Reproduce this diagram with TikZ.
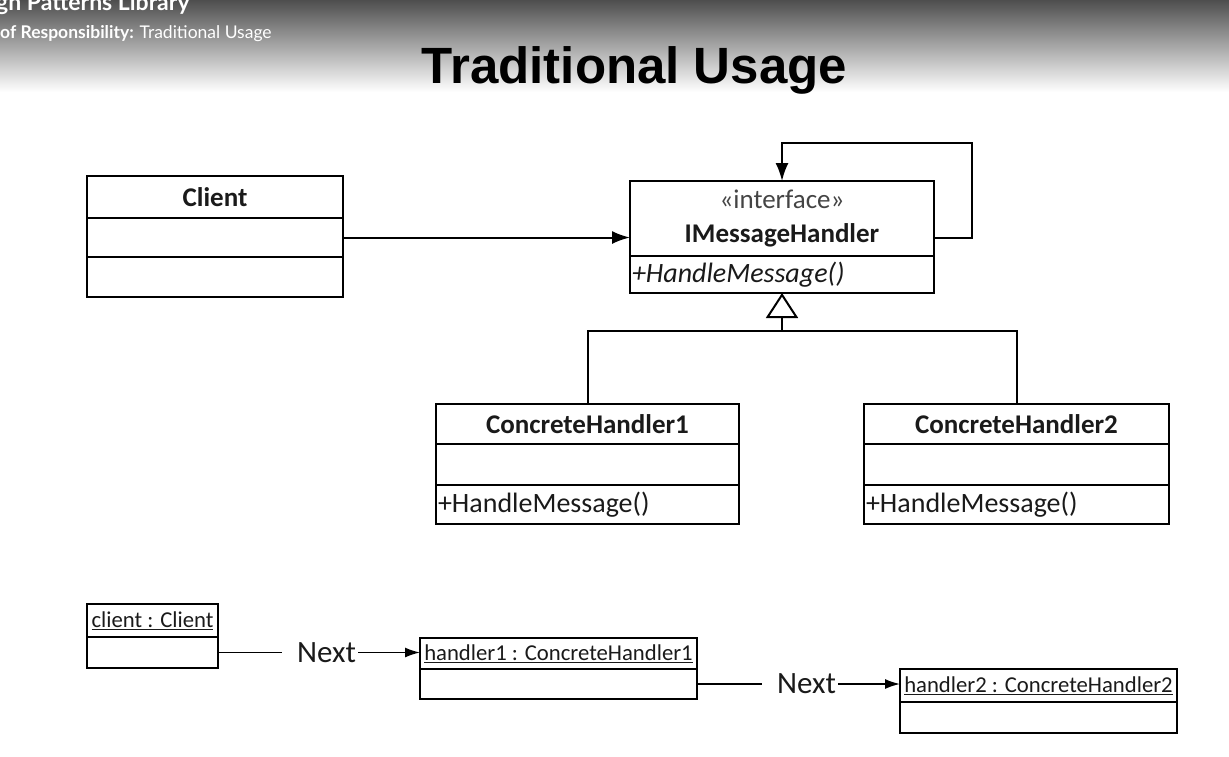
\documentclass[tikz,border=0pt]{standalone}
\usepackage{fontspec}
\setmainfont{Carlito}
\newfontfamily\titlefont{Liberation Sans}
\newfontfamily\bannerfont{Lato}
\usetikzlibrary{arrows.meta}
\usetikzlibrary{calc}
\usetikzlibrary{positioning}
\definecolor{bannerTop}{HTML}{4E4E4E}
\definecolor{bannerMid}{HTML}{BDBDBD}
\definecolor{inkGray}{HTML}{1A1A1A}
\definecolor{stereoGray}{HTML}{444444}
\tikzset{%
  >={Latex[width=13pt,length=18pt]},
  % Specifications for style of nodes:
        base/.style = {rectangle, draw=black, line width=2pt, inner sep=0pt,
                       outer sep=0pt, text=inkGray, text centered,
                       font=\fontsize{27}{34}\selectfont},
   className/.style = {base, font=\bfseries\fontsize{27}{34}\selectfont},
   classPart/.style = {base},
  methodPart/.style = {base, align=left, inner xsep=2pt,
                       font=\fontsize{28}{34}\selectfont},
     objName/.style = {base, line width=1.5pt,
                       font=\fontsize{22.7}{27}\selectfont},
     objPart/.style = {base, line width=1.5pt},
   nextLabel/.style = {inner xsep=2pt, inner ysep=0pt, text=inkGray,
                       font=\fontsize{31}{36}\selectfont},
}

\begin{document}
\begin{tikzpicture}[x=1pt, y=-1pt]
  \useasboundingbox (0,0) rectangle (1229,756);
  % banner of the slide
  \shade[top color=bannerTop, middle color=bannerMid, bottom color=white]
    (0,0) rectangle (1229,92);
  \node (bannerLib) [anchor=base west, inner sep=0pt, text=white,
    font=\bannerfont\bfseries\fontsize{23}{26}\selectfont] at (-4,10) {gn Patterns Library};
  \node (bannerSub) [anchor=base west, inner sep=0pt, text=white,
    font=\bannerfont\fontsize{17.5}{20}\selectfont] at (0,38)
    {\textbf{of Responsibility:} Traditional Usage};
  \node (title) [anchor=base, inner sep=0pt,
    font=\titlefont\bfseries\fontsize{51}{60}\selectfont] at (634.5,83) {Traditional Usage};

  % Specification of class nodes
  \node (client) [className, minimum width=256pt, minimum height=42pt] at (215,197) {Client};
  \node (clientAttr) [classPart, minimum width=256pt, minimum height=39pt, below=0pt of client] {};
  \node (clientOps)  [classPart, minimum width=256pt, minimum height=40pt, below=0pt of clientAttr] {};

  \node (handler) [className, minimum width=304pt, minimum height=75pt, align=center]
    at (782,218.5) {{\mdseries\color{stereoGray}«interface»}\\IMessageHandler};
  \node (handlerOps) [methodPart, text width=300pt, minimum height=37pt, below=0pt of handler,
    font=\itshape\fontsize{28}{34}\selectfont] {+HandleMessage()};

  \node (concrete1) [className, minimum width=303pt, minimum height=40pt] at (587.5,424) {ConcreteHandler1};
  \node (concrete1Attr) [classPart, minimum width=303pt, minimum height=41pt, below=0pt of concrete1] {};
  \node (concrete1Ops)  [methodPart, text width=299pt, minimum height=39pt, below=0pt of concrete1Attr] {+HandleMessage()};

  \node (concrete2) [className, minimum width=305pt, minimum height=40pt] at (1016.5,424) {ConcreteHandler2};
  \node (concrete2Attr) [classPart, minimum width=305pt, minimum height=41pt, below=0pt of concrete2] {};
  \node (concrete2Ops)  [methodPart, text width=301pt, minimum height=39pt, below=0pt of concrete2Attr] {+HandleMessage()};

  % lines between the classes
  \draw[->, line width=2pt] (clientAttr.east) -- (clientAttr.east -| handler.west);
  \draw[->, line width=2pt] (handler.east |- clientAttr.east) -- ++(38,0)
    |- ($(handler.north)+(0,-38)$) -- (handler.north);
  \coordinate (joint) at ($(handlerOps.south)+(0,38)$);
  \draw[line width=2pt] (concrete1.north) |- (joint) -| (concrete2.north);
  \draw[line width=2pt, -{Triangle[open, length=25pt, width=32pt]}] (joint) -- (handlerOps.south);

  % object nodes
  \node (clientObj) [objName, minimum width=131pt, minimum height=33pt] at (152.5,620.5) {\underline{client : Client}};
  \node (clientObjAttr) [objPart, minimum width=131pt, minimum height=31pt, below=0pt of clientObj] {};
  \node (handler1Obj) [objName, minimum width=277pt, minimum height=31pt] at (558.5,653.5) {\underline{handler1 : ConcreteHandler1}};
  \node (handler1ObjAttr) [objPart, minimum width=277pt, minimum height=30pt, below=0pt of handler1Obj] {};
  \node (handler2Obj) [objName, minimum width=277pt, minimum height=33pt] at (1038.5,685.5) {\underline{handler2 : ConcreteHandler2}};
  \node (handler2ObjAttr) [objPart, minimum width=277pt, minimum height=31pt, below=0pt of handler2Obj] {};

  % links with their labels
  \node (nextA) [nextLabel, right=77pt of clientObjAttr.east] {Next};
  \draw[line width=1.5pt] (clientObjAttr.east) -- ([xshift=-13pt]nextA.west);
  \draw[line width=1.5pt, -{Latex[width=10pt,length=15pt]}] (nextA.east) -- (nextA.east -| handler1Obj.west);
  \node (nextB) [nextLabel, right=78pt of handler1ObjAttr.east] {Next};
  \draw[line width=1.5pt] (handler1ObjAttr.east) -- ([xshift=-13pt]nextB.west);
  \draw[line width=1.5pt, -{Latex[width=10pt,length=15pt]}] (nextB.east) -- (nextB.east -| handler2Obj.west);
\end{tikzpicture}
\end{document}
